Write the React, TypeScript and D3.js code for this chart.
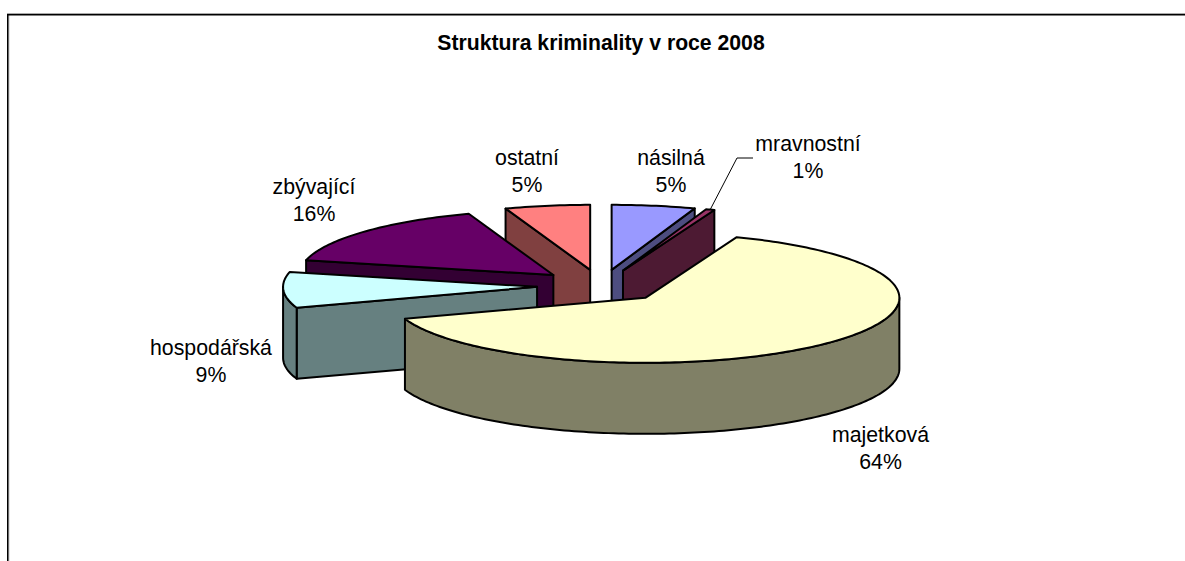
import React from "react";
import * as d3 from "d3";

const width = 1185;
const height = 561;
const titleText = "Struktura kriminality v roce 2008";
const categories = ["násilná", "mravnostní", "majetková", "hospodářská", "zbývající", "ostatní"];
const shares = [5.3, 0.55, 63.85, 8.9, 15.9, 5.4];
const topColors = ["#9999FF", "#993366", "#FFFFCC", "#CCFFFF", "#660066", "#FF8080"];
const wallColors = ["#4D4D80", "#4D1A33", "#808066", "#668080", "#330033", "#804040"];
const labelX = [671, 808, 880.5, 211, 314, 527];
const labelY = [165, 151, 442, 355, 194, 165];
const paintOrder = [5, 0, 1, 4, 3, 2];

const cx = 601, cy = 286, rx = 254, ry = 65, depth = 71, explode = 64;
const tilt = ry / rx;
const TAU = Math.PI * 2;
const lineGen = d3.line<[number, number]>();
const fmt = d3.format(".0%");

type Pt = [number, number];

function App() {
  const arcs = d3.pie<number>().sort(null).startAngle(0).endAngle(TAU)(shares);

  const slice = (i: number) => {
    const a = arcs[i].startAngle, b = arcs[i].endAngle;
    const mid = (a + b) / 2;
    const ox = cx + explode * Math.sin(mid);
    const oy = cy - explode * tilt * Math.cos(mid);
    const at = (t: number, dz = 0): Pt => [ox + rx * Math.sin(t), oy - ry * Math.cos(t) + dz];
    const apex: Pt = [ox, oy];
    const n = Math.max(4, Math.ceil((b - a) / 0.02));
    const rim = d3.range(n + 1).map((k) => at(a + ((b - a) * k) / n));
    const top = "M" + [apex, ...rim].map((p) => p.join(",")).join("L") + "Z";
    const below = (p: Pt): Pt => [p[0], p[1] + depth];
    const walls: string[] = [];
    if (Math.sin(a) < 0) walls.push(lineGen([apex, at(a), at(a, depth), below(apex)])! + "Z");
    if (Math.sin(b) > 0) walls.push(lineGen([apex, at(b), at(b, depth), below(apex)])! + "Z");
    const r0 = Math.max(a, Math.PI / 2), r1 = Math.min(b, (Math.PI * 3) / 2);
    if (r1 > r0) {
      const m = Math.ceil((r1 - r0) / 0.02);
      const upper = d3.range(m + 1).map((k) => at(r0 + ((r1 - r0) * k) / m));
      walls.push(lineGen([...upper, ...upper.slice().reverse().map(below)])! + "Z");
    }
    return { top, walls, at };
  };

  const mrav = slice(1);
  const mravMid = (arcs[1].startAngle + arcs[1].endAngle) / 2;
  const leaderStart = mrav.at(mravMid);

  return (
    <svg
      width={width}
      height={height}
      style={{ position: "absolute", left: 0, top: 0, background: "#fff" }}
      fontFamily="'Liberation Sans', Arial, sans-serif"
    >
      <path d={`M7,13.5H${width}`} stroke="#AAAAAA" strokeWidth={1} fill="none" />
      <path d={`M8.9,15V${height}`} stroke="#AAAAAA" strokeWidth={0.8} fill="none" />
      <path d={`M7.75,${height}V14.75H${width}`} fill="none" stroke="#000" strokeWidth={1.5} />
      <text x={601} y={50} textAnchor="middle" fontSize={21.2} fontWeight={700} fill="#000">
        {titleText}
      </text>
      {paintOrder.map((i) => {
        const s = slice(i);
        return (
          <g key={categories[i]} stroke="#000" strokeWidth={2} strokeLinejoin="round">
            {s.walls.map((d, k) => (
              <path key={k} d={d} fill={wallColors[i]} />
            ))}
            <path d={s.top} fill={topColors[i]} />
          </g>
        );
      })}
      <path
        d={lineGen([leaderStart, [737, 158], [753, 158]])!}
        fill="none"
        stroke="#000"
        strokeWidth={1}
      />
      {categories.map((c, i) => (
        <text key={c} textAnchor="middle" fontSize={21.3} fill="#000">
          <tspan x={labelX[i]} y={labelY[i]}>{c}</tspan>
          <tspan x={labelX[i]} y={labelY[i] + 27.3}>{fmt(shares[i] / 100)}</tspan>
        </text>
      ))}
    </svg>
  );
}

export default App;
